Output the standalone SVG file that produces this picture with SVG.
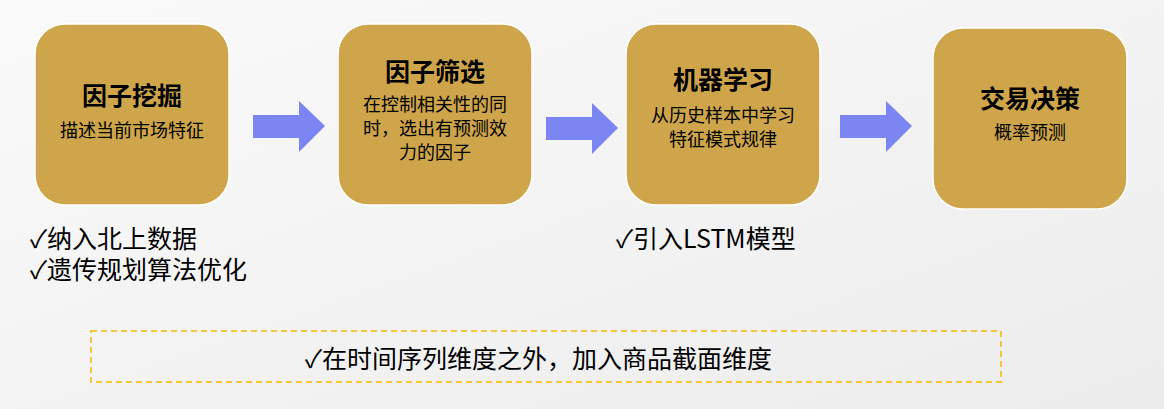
<svg xmlns="http://www.w3.org/2000/svg" width="1164" height="409" viewBox="0 0 1164 409">
<style>
.box{fill:#CFA54C;stroke:#fff;stroke-width:1.5}
.t{font-family:"Noto Sans CJK SC",sans-serif;font-weight:bold;font-size:25px;fill:#000;text-anchor:middle}
.s{font-family:"Noto Sans CJK SC",sans-serif;font-size:18px;fill:#000;text-anchor:middle}
.b{font-family:"Noto Sans CJK SC",sans-serif;font-size:25px;fill:#000}
.arr{fill:#7B86F2}
</style>
<defs><linearGradient id="bg" x1="0" y1="0" x2="1" y2="1"><stop offset="0" stop-color="#fafafa"/><stop offset="1" stop-color="#ececec"/></linearGradient></defs>
<rect width="1164" height="409" fill="url(#bg)"/>
<g id="n1"><rect class="box" x="35" y="24" width="194" height="181" rx="30"/><text class="t" x="132" y="105">因子挖掘</text><text class="s" x="132" y="137">描述当前市场特征</text></g>
<g id="n2"><rect class="box" x="338" y="24" width="194" height="181" rx="30"/><text class="t" x="435" y="81">因子筛选</text><text class="s" x="435" y="111">在控制相关性的同</text><text class="s" x="435" y="135">时，选出有预测效</text><text class="s" x="435" y="159">力的因子</text></g>
<g id="n3"><rect class="box" x="626" y="24" width="194" height="181" rx="30"/><text class="t" x="723" y="89">机器学习</text><text class="s" x="723" y="122">从历史样本中学习</text><text class="s" x="723" y="146">特征模式规律</text></g>
<g id="n4"><rect class="box" x="933" y="28" width="194" height="181" rx="30"/><text class="t" x="1030" y="108">交易决策</text><text class="s" x="1030" y="139">概率预测</text></g>
<g id="connectors">
<polygon class="arr" points="253,115 299,115 299,101 325,126 299,152 299,138 253,138"/>
<polygon class="arr" points="546,117 592,117 592,103 618,128 592,154 592,140 546,140"/>
<polygon class="arr" points="840,115 886,115 886,101 912,126 886,152 886,138 840,138"/>
</g>
<text class="b" x="30" y="248">✓纳入北上数据</text>
<text class="b" x="30" y="279">✓遗传规划算法优化</text>
<text class="b" x="616" y="248">✓引入LSTM模型</text>
<g id="n5"><rect x="91" y="331" width="910" height="51" fill="none" stroke="#F5B800" stroke-width="1.5" stroke-dasharray="6,4"/><text class="b" x="305" y="368">✓在时间序列维度之外，加入商品截面维度</text></g>
</svg>
